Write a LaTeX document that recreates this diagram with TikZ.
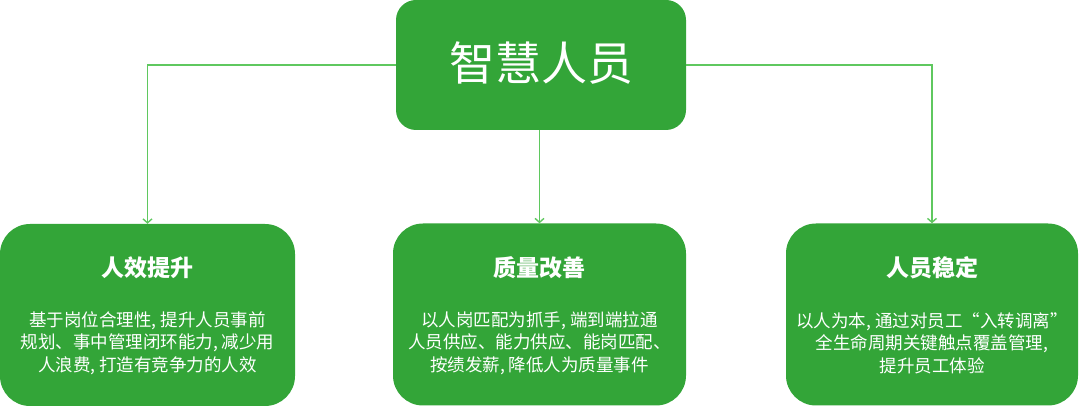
\documentclass[tikz,border=0pt]{standalone}
\usepackage{fontspec}
\setmainfont{Noto Sans CJK SC}
\usetikzlibrary{arrows.meta}
\definecolor{boxgreen}{RGB}{51,165,56}
\definecolor{linegreen}{RGB}{95,200,95}
\tikzset{
  mainbox/.style={fill=boxgreen, draw=none, rounded corners=20pt, minimum width=290pt, minimum height=130pt, inner sep=0pt},
  subbox/.style={fill=boxgreen, draw=none, rounded corners=30pt, minimum height=182pt, inner sep=0pt},
  subtitle/.style={text=white, font=\fontsize{23pt}{27pt}\selectfont\bfseries, inner sep=0pt},
  subbody/.style={text=white, font=\fontsize{17.5pt}{22.5pt}\selectfont, align=center, inner sep=0pt},
  conn/.style={draw=linegreen, line width=1.4pt, -{Straight Barb[length=4pt,width=9pt,line width=1.4pt]}}
}
\begin{document}
\begin{tikzpicture}[x=1pt,y=1pt]
\useasboundingbox (0,0) rectangle (1080,406);
\node[mainbox] (top) at (541,341) {};
\node[text=white, font=\fontsize{46pt}{50pt}\selectfont, inner sep=0pt] (toptext) at (541,343) {智慧人员};

\node[subbox, minimum width=295pt] (left) at (147.5,91) {};
\node[subbox, minimum width=293pt] (mid) at (539.5,91.5) {};
\node[subbox, minimum width=292pt] (right) at (932,91.5) {};

\node[subtitle] (lt) at (147.5,138) {人效提升};
\node[subtitle] (mt) at (539.5,138) {质量改善};
\node[subtitle] (rt) at (932,138) {人员稳定};

\node[subbody] (lb) at (147.5,63) {基于岗位合理性, 提升人员事前\\规划、事中管理闭环能力, 减少用\\人浪费, 打造有竞争力的人效};
\node[subbody] (mb) at (539.5,63) {以人岗匹配为抓手, 端到端拉通\\人员供应、能力供应、能岗匹配、\\按绩发薪, 降低人为质量事件};
\node[subbody] (rb) at (932,63) {以人为本, 通过对员工“入转调离”\\全生命周期关键触点覆盖管理,\\提升员工体验};

\draw[conn] (top.west) -| (left.north);
\draw[conn] (top.south -| mid.north) -- (mid.north);
\draw[conn] (top.east) -| (right.north);
\end{tikzpicture}
\end{document}
